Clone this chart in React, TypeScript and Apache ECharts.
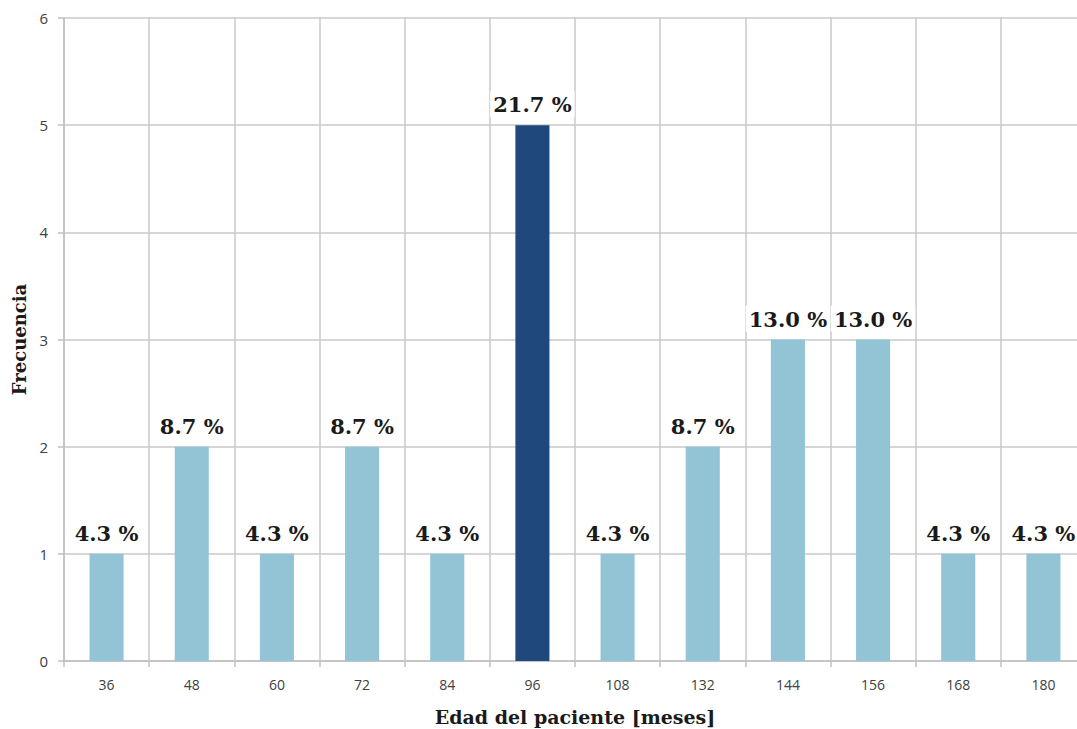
import React, { useEffect, useRef } from "react";
import * as echarts from "echarts";

// Patient age groups (months) and how many patients fall into each
const ages = ["36", "48", "60", "72", "84", "96", "108", "132", "144", "156", "168", "180"];
const counts = [1, 2, 1, 2, 1, 5, 1, 2, 3, 3, 1, 1];
const yTicks = [0, 1, 2, 3, 4, 5, 6];

const total = counts.reduce((a, b) => a + b, 0);
const peak = Math.max(...counts);

const LIGHT = "#92C4D6";
const DARK = "#1F497D";
const SERIF = "'DejaVu Serif', 'Liberation Serif', serif";
const SANS = "'Open Sans', 'Noto Sans', sans-serif";

export default function App() {
  const ref = useRef<HTMLDivElement>(null);

  useEffect(() => {
    document.body.style.margin = "0";
    if (!ref.current) return;
    const chart = echarts.init(ref.current, null, { renderer: "svg" });
    chart.setOption({
      animation: false,
      backgroundColor: "#ffffff",
      grid: {
        left: 64,
        top: 18,
        width: 1022,
        height: 643,
        containLabel: false,
        outerBoundsMode: "none",
      },
      xAxis: {
        type: "category",
        data: ages,
        boundaryGap: true,
        name: "Edad del paciente [meses]",
        nameLocation: "middle",
        nameGap: 46,
        nameTextStyle: { fontFamily: SERIF, fontWeight: "bold", fontSize: 19, color: "#1a1a1a" },
        axisLine: { show: true, lineStyle: { color: "#BFBFBF", width: 1.5 } },
        axisTick: { show: true, length: 6, lineStyle: { color: "#BFBFBF", width: 1.5 } },
        axisLabel: { color: "#404040", fontFamily: SANS, fontSize: 14, margin: 16 },
        splitLine: { show: true, lineStyle: { color: "#C8C8C8", width: 1.5 } },
      },
      yAxis: {
        type: "value",
        min: yTicks[0],
        max: yTicks[yTicks.length - 1],
        interval: 1,
        name: "Frecuencia",
        nameLocation: "middle",
        nameGap: 36,
        nameRotate: 90,
        nameTextStyle: { fontFamily: SERIF, fontWeight: "bold", fontSize: 18, color: "#1a1a1a" },
        axisLine: { show: true, lineStyle: { color: "#BFBFBF", width: 1.5 } },
        axisTick: { show: true, length: 6, lineStyle: { color: "#BFBFBF", width: 1.5 } },
        axisLabel: { color: "#404040", fontFamily: SANS, fontSize: 15, margin: 16 },
        splitLine: { show: true, lineStyle: { color: "#C8C8C8", width: 1.5 } },
      },
      series: [
        {
          type: "bar",
          barWidth: "40%",
          data: counts.map((v) => ({
            value: v,
            itemStyle: { color: v === peak ? DARK : LIGHT },
          })),
          label: {
            show: true,
            position: "top",
            distance: 8,
            formatter: (p: any) => ((p.value / total) * 100).toFixed(1) + " %",
            fontFamily: SERIF,
            fontWeight: "bold",
            fontSize: 21,
            color: "#1a1a1a",
            backgroundColor: "#ffffff",
            padding: [3, 3, 2, 3],
          },
        },
      ],
    });
    return () => chart.dispose();
  }, []);

  return <div ref={ref} style={{ width: 1077, height: 729 }} />;
}
